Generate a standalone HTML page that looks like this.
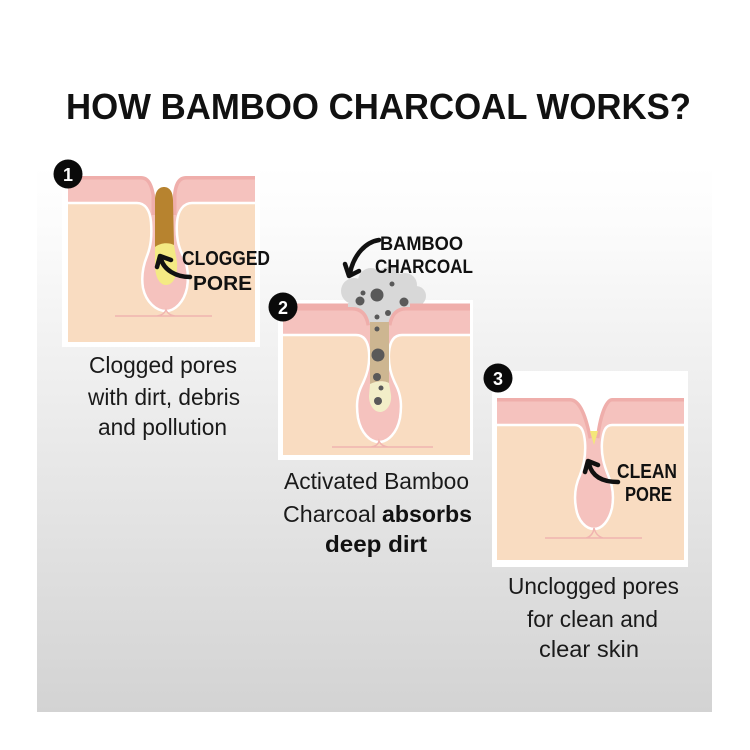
<!DOCTYPE html>
<html><head><meta charset="utf-8"><style>
html,body{margin:0;padding:0;background:#fff;}
svg{display:block;}
text{font-family:"Liberation Sans",Arial,sans-serif;}
</style></head><body>
<svg width="750" height="750" viewBox="0 0 750 750" xmlns="http://www.w3.org/2000/svg">
<defs>
<linearGradient id="bg" x1="0" y1="0" x2="0" y2="1">
<stop offset="0" stop-color="#ffffff"/>
<stop offset="0.1" stop-color="#fcfcfc"/>
<stop offset="1" stop-color="#d3d3d3"/>
</linearGradient>
</defs>
<rect x="0" y="0" width="750" height="750" fill="#fff"/>
<rect x="37" y="165" width="675" height="547" fill="url(#bg)"/>

<text x="66" y="119" font-size="36" font-weight="bold" fill="#111" textLength="625" lengthAdjust="spacingAndGlyphs">HOW BAMBOO CHARCOAL WORKS?</text>

<!-- PANEL 1 -->
<rect x="62" y="169" width="198" height="178" fill="#fff"/>
<rect x="68" y="175" width="187" height="167" fill="#f9dcc1"/>
<path d="M68 175 H255 V203 H192 C184 203 178 210 177 222 C176 236 178 246 183 256 C188 266 189 276 187 288 C184 302 175 311 166 311 C156 311 146 302 143 288 C141 276 143 266 147 256 C151 246 152 236 151 222 C150 210 145 203 137 203 H68 Z" fill="#f5c2be"/>
<path d="M255 203 H192 C184 203 178 210 177 222 C176 236 178 246 183 256 C188 266 189 276 187 288 C184 302 175 311 166 311 C156 311 146 302 143 288 C141 276 143 266 147 256 C151 246 152 236 151 222 C150 210 145 203 137 203 H68" fill="none" stroke="#fff" stroke-width="2.5"/>
<path d="M115 316 H212 M157 316 Q164 315 166 310 Q168 315 175 316" fill="none" stroke="#f0b4b0" stroke-width="1.5"/>
<path d="M68 176 H141 C149 176 153 183 155 195 L155 215 M255 176 H186 C178 176 174 183 173 195 L173 215" fill="none" stroke="#efaeab" stroke-width="7"/>
<path d="M62 169 H260 V176 H186 C178 176 174 183 173 195 L173 215 L155 215 L155 195 C153 183 149 176 141 176 H62 Z" fill="#fff"/>
<path d="M155 200 C155 191 159 187 164 187 C169 187 173 191 173 200 L174 246 C168 242 160 244 155 248 Z" fill="#b7832f"/>
<path d="M155 247 C160 243 168 242 174 245 L177 262 C178 276 173 285 166 285 C159 285 155 276 155 265 Z" fill="#f4ea84"/>
<path d="M190 277 C176 277 164 270 161 259" fill="none" stroke="#111" stroke-width="4.5" stroke-linecap="round"/>
<polyline points="157,267 160,256 171,260" fill="none" stroke="#111" stroke-width="4.5" stroke-linecap="round" stroke-linejoin="round"/>
<text x="182" y="265" font-size="20" font-weight="bold" fill="#111" textLength="88" lengthAdjust="spacingAndGlyphs">CLOGGED</text>
<text x="193" y="290" font-size="20" font-weight="bold" fill="#111" textLength="59" lengthAdjust="spacingAndGlyphs">PORE</text>
<circle cx="68" cy="174" r="14.5" fill="#0a0a0a"/>
<text x="68" y="181" font-size="18" font-weight="bold" fill="#fff" text-anchor="middle">1</text>

<text x="89" y="373" font-size="23" fill="#1a1a1a" textLength="148" lengthAdjust="spacingAndGlyphs">Clogged pores</text>
<text x="88" y="405" font-size="23" fill="#1a1a1a" textLength="152" lengthAdjust="spacingAndGlyphs">with dirt, debris</text>
<text x="98" y="435" font-size="23" fill="#1a1a1a" textLength="129" lengthAdjust="spacingAndGlyphs">and pollution</text>

<!-- PANEL 2 -->
<rect x="278" y="300" width="195" height="160" fill="#fff"/>
<rect x="283" y="306" width="187" height="149" fill="#f9dcc1"/>
<g fill="#d8d8d8">
<circle cx="354" cy="291" r="13"/>
<circle cx="371" cy="281" r="13"/>
<circle cx="389" cy="279" r="12"/>
<circle cx="405" cy="285" r="12"/>
<circle cx="416" cy="296" r="10"/>
<circle cx="366" cy="301" r="12"/>
<circle cx="384" cy="298" r="14"/>
<circle cx="400" cy="302" r="11"/>
</g>
<path d="M283 306 H470 V335 H402 C394 335 390 341 389 352 C388 365 391 375 396 385 C401 395 402 405 400 418 C397 433 388 442 379 442 C370 442 361 433 358 418 C356 405 357 395 362 385 C367 375 370 365 369 352 C368 341 364 335 356 335 H283 Z" fill="#f5c2be"/>
<path d="M470 335 H402 C394 335 390 341 389 352 C388 365 391 375 396 385 C401 395 402 405 400 418 C397 433 388 442 379 442 C370 442 361 433 358 418 C356 405 357 395 362 385 C367 375 370 365 369 352 C368 341 364 335 356 335 H283" fill="none" stroke="#fff" stroke-width="2.5"/>
<path d="M332 447 H433 M371 447 Q378 446 379 441 Q381 446 388 447" fill="none" stroke="#f0b4b0" stroke-width="1.5"/>
<path d="M283 307 H352 C362 307 368 313 370 325 M470 307 H406 C396 307 390 313 388 325" fill="none" stroke="#efaeab" stroke-width="7"/>
<path d="M348 303 H410 V307 H406 C396 307 390 313 388 325 L370 325 C368 313 362 307 352 307 H348 Z" fill="#d8d8d8"/>
<path d="M370 322 L389 322 L389 383 C383 380 376 381 370 385 Z" fill="#cdb691"/>
<path d="M370 384 C376 381 383 380 389 383 L391 395 C392 405 386 412 380 412 C374 412 369 405 369 396 Z" fill="#f2eec8"/>
<g fill="#595959">
<circle cx="377" cy="295" r="6.5"/>
<circle cx="360" cy="301" r="4.5"/>
<circle cx="404" cy="302" r="4.5"/>
<circle cx="363" cy="293" r="2.5"/>
<circle cx="392" cy="284" r="2.5"/>
<circle cx="388" cy="313" r="3"/>
<circle cx="377" cy="317" r="2.5"/>
<circle cx="377" cy="329" r="2.5"/>
<circle cx="378" cy="355" r="6.5"/>
<circle cx="377" cy="377" r="4"/>
<circle cx="381" cy="388" r="2.5"/>
<circle cx="378" cy="401" r="4"/>
</g>
<path d="M379 240 C366 242 354 254 350 273" fill="none" stroke="#111" stroke-width="4.5" stroke-linecap="round"/>
<polyline points="345,264 349,276 359,271" fill="none" stroke="#111" stroke-width="4.5" stroke-linecap="round" stroke-linejoin="round"/>
<text x="380" y="250" font-size="19" font-weight="bold" fill="#111" textLength="83" lengthAdjust="spacingAndGlyphs">BAMBOO</text>
<text x="375" y="273" font-size="19" font-weight="bold" fill="#111" textLength="98" lengthAdjust="spacingAndGlyphs">CHARCOAL</text>
<circle cx="283" cy="307" r="14.5" fill="#0a0a0a"/>
<text x="283" y="314" font-size="18" font-weight="bold" fill="#fff" text-anchor="middle">2</text>

<text x="284" y="489" font-size="23" fill="#1a1a1a" textLength="185" lengthAdjust="spacingAndGlyphs">Activated Bamboo</text>
<text x="283" y="522" font-size="23" fill="#1a1a1a" textLength="93" lengthAdjust="spacingAndGlyphs">Charcoal</text>
<text x="382" y="522" font-size="23" font-weight="bold" fill="#111" textLength="90" lengthAdjust="spacingAndGlyphs">absorbs</text>
<text x="325" y="552" font-size="23" font-weight="bold" fill="#111" textLength="102" lengthAdjust="spacingAndGlyphs">deep dirt</text>

<!-- PANEL 3 -->
<rect x="492" y="371" width="196" height="196" fill="#fff"/>
<rect x="497" y="397" width="187" height="163" fill="#f9dcc1"/>
<path d="M497 397 H684 V425 H612 C605 425 603 432 602 442 C601 455 604 465 608 475 C613 486 614 497 612 508 C609 521 602 529 594 529 C586 529 578 521 576 508 C574 497 575 486 580 475 C584 465 586 455 585 442 C584 432 582 425 575 425 H497 Z" fill="#f5c2be"/>
<path d="M684 425 H612 C605 425 603 432 602 442 C601 455 604 465 608 475 C613 486 614 497 612 508 C609 521 602 529 594 529 C586 529 578 521 576 508 C574 497 575 486 580 475 C584 465 586 455 585 442 C584 432 582 425 575 425 H497" fill="none" stroke="#fff" stroke-width="2.5"/>
<path d="M545 538 H642 M586 538 Q593 536 594 528 Q596 536 603 538" fill="none" stroke="#f0b4b0" stroke-width="1.5"/>
<path d="M497 398 H570 C582 398 588 418 592 438 M684 398 H612 C604 398 598 418 596 438" fill="none" stroke="#efaeab" stroke-width="7"/>
<path d="M492 371 H688 V398 H612 C604 398 598 418 596 438 L592 438 C588 418 582 398 570 398 H492 Z" fill="#fff"/>
<path d="M590 431 L598 431 L594 445 Z" fill="#f4e77a"/>
<path d="M618 482 C602 482 592 476 589 464" fill="none" stroke="#111" stroke-width="4.5" stroke-linecap="round"/>
<polyline points="585,472 588,461 598,465" fill="none" stroke="#111" stroke-width="4.5" stroke-linecap="round" stroke-linejoin="round"/>
<text x="617" y="478" font-size="20" font-weight="bold" fill="#111" textLength="60" lengthAdjust="spacingAndGlyphs">CLEAN</text>
<text x="625" y="501" font-size="20" font-weight="bold" fill="#111" textLength="47" lengthAdjust="spacingAndGlyphs">PORE</text>
<circle cx="498" cy="378" r="14.5" fill="#0a0a0a"/>
<text x="498" y="385" font-size="18" font-weight="bold" fill="#fff" text-anchor="middle">3</text>

<text x="508" y="594" font-size="23" fill="#1a1a1a" textLength="171" lengthAdjust="spacingAndGlyphs">Unclogged pores</text>
<text x="527" y="627" font-size="23" fill="#1a1a1a" textLength="131" lengthAdjust="spacingAndGlyphs">for clean and</text>
<text x="539" y="657" font-size="23" fill="#1a1a1a" textLength="100" lengthAdjust="spacingAndGlyphs">clear skin</text>
</svg>
</body></html>
